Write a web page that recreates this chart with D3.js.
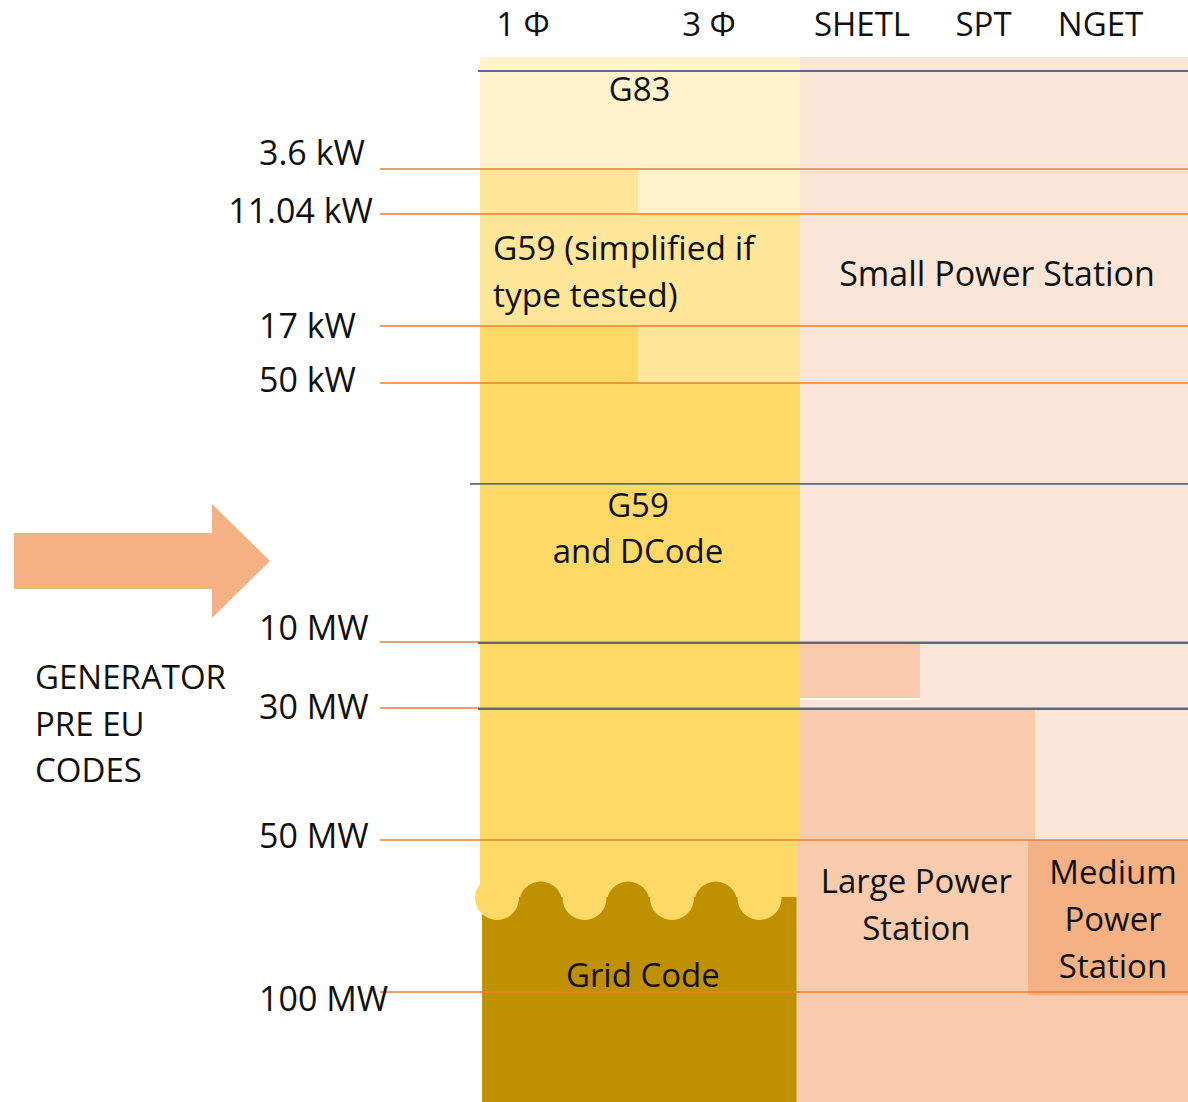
<!DOCTYPE html>
<html><head><meta charset="utf-8">
<script src="https://cdn.jsdelivr.net/npm/d3@7"></script>
<style>
body{margin:0;background:#fff}
svg{display:block}
text{font-family:"Open Sans",sans-serif;fill:#111}
</style>
</head><body>
<svg id="chart" width="1188" height="1102"></svg>
<script>
// ---------------- DATA ----------------
const columnHeaders = ["1 Φ", "3 Φ", "SHETL", "SPT", "NGET"];
const thresholdLabels = ["3.6 kW", "11.04 kW", "17 kW", "50 kW", "10 MW", "30 MW", "50 MW", "100 MW"];
const sideTitle = ["GENERATOR", "PRE EU", "CODES"];
// level 0 = top, levels 1..8 = thresholds above, level 9 = bottom
const blockCol0  = [0, 0, 1, 0, 0, 1, 0,     0.013, 2, 2, 2,    2, 4, 1.98, 3.94];
const blockCol1  = [2, 1, 2, 2, 1, 2, 2,     1.98,  5, 5, 3,    4, 5, 5,    5];
const blockLev0  = [0, 1, 1, 2, 3, 3, 4,     7.375, 0, 5, 5,    6, 6, 7,    7];
const blockLev1  = [1, 2, 2, 3, 4, 4, 7.375, 9,     5, 6, 5.85, 7, 7, 9,    8.03];
const blockShade = ["y1","y2","y1","y2","y3","y2","y3","gold","p1","p1","p2","p2","p1","p2","p3"];
const dividerLevels = [0.116, 4.386, 5, 6];
const labelLines = [["G83"], ["G59 (simplified if", "type tested)"], ["Small Power Station"],
  ["G59", "and DCode"], ["Large Power", "Station"], ["Medium", "Power", "Station"], ["Grid Code"]];
const waveBumps = 3;

// ---------------- LAYOUT / STYLE ----------------
const W = 1188, H = 1102;
const levelY = [57, 169, 214, 326, 383, 642, 708, 840, 992, 1102];
const colX = [480, 638, 800, 920, 1035, 1188];
const palette = {y1:"#FFF2CC", y2:"#FFE699", y3:"#FFD966", gold:"#BF9000",
                 p1:"#FBE5D6", p2:"#F8CBAD", p3:"#F4B183"};
const headerDx = [-36, -10, 2, 6, -11];
const thresholdDy = [-16, -3, 0, -3, -14, -1, -4, 7];
const labelPos = [ // [colCenter, anchor, levels of each line, size]
  {c:1.01, a:"middle", l:[0.29], fs:33},
  {c:0.082, a:"start", l:[2.3, 2.72], fs:33.5},
  {c:3.67, a:"middle", l:[2.54], fs:34},
  {c:1, a:"middle", l:[4.47, 4.65], fs:33},
  {c:2.97, a:"middle", l:[7.27, 7.58], fs:33},
  {c:4.51, a:"middle", l:[7.21, 7.52, 7.83], fs:33},
  {c:1.03, a:"middle", l:[7.89], fs:33}
];
const FS = 33;

const svg = d3.select("#chart");
const y = d3.scaleLinear().domain(d3.range(levelY.length)).range(levelY);
const x = d3.scaleLinear().domain(d3.range(colX.length)).range(colX);

svg.append("rect").attr("width", W).attr("height", H).attr("fill", "#fff");

// blocks
const blocks = blockCol0.map((c0, i) => ({c0, c1: blockCol1[i], l0: blockLev0[i], l1: blockLev1[i], s: blockShade[i]}));
svg.append("g").selectAll("rect").data(blocks).join("rect")
  .attr("x", d => x(d.c0)).attr("y", d => y(d.l0))
  .attr("width", d => x(d.c1) - x(d.c0)).attr("height", d => y(d.l1) - y(d.l0))
  .attr("fill", d => palette[d.s]);

// thin white gap under the SHETL 10-30 MW block
svg.append("line").attr("x1", x(2)).attr("x2", x(3))
  .attr("y1", y(5.85) + 1).attr("y2", y(5.85) + 1)
  .attr("stroke", "#fff").attr("stroke-width", 2);

// wavy boundary between G59/DCode and Grid Code
const waveY = y(7.375);
const step = 87.5;
const firstLobe = x(0) + 17;
const lobes = d3.range(waveBumps + 1).map(i => firstLobe + i * step);
const bumps = d3.range(waveBumps).map(i => firstLobe + step / 2 + i * step);
svg.append("g").selectAll("circle").data(bumps).join("circle")
  .attr("cx", d => d).attr("cy", waveY + 6).attr("r", 21.5).attr("fill", palette.gold);
svg.append("g").selectAll("circle").data(lobes).join("circle")
  .attr("cx", d => d).attr("cy", waveY + 1).attr("r", 22).attr("fill", palette.y3);

// orange threshold lines
svg.append("g").selectAll("line").data(thresholdLabels).join("line")
  .attr("x1", 380).attr("x2", W)
  .attr("y1", (d, i) => y(i + 1)).attr("y2", (d, i) => y(i + 1))
  .attr("stroke", "#ED7D31").attr("stroke-width", 1.4);

// blue-gray dividers
svg.append("g").selectAll("line").data(dividerLevels).join("line")
  .attr("x1", (d, i) => x(0) - (i === 1 ? 10 : 2)).attr("x2", W)
  .attr("y1", d => y(d) + 1).attr("y2", d => y(d) + 1)
  .attr("stroke", "#5A6984").attr("stroke-width", 1.8);

// arrow
const ar = {x0: 14, x1: 212, x2: 270, ym: 561, bh: 28, hh: 57};
const ap = d3.path();
ap.moveTo(ar.x0, ar.ym - ar.bh); ap.lineTo(ar.x1, ar.ym - ar.bh); ap.lineTo(ar.x1, ar.ym - ar.hh);
ap.lineTo(ar.x2, ar.ym); ap.lineTo(ar.x1, ar.ym + ar.hh); ap.lineTo(ar.x1, ar.ym + ar.bh);
ap.lineTo(ar.x0, ar.ym + ar.bh); ap.closePath();
svg.append("path").attr("d", ap.toString()).attr("fill", "#F4B183");

// column headers
svg.append("g").selectAll("text").data(columnHeaders).join("text")
  .attr("x", (d, i) => x(i + 0.5) + headerDx[i]).attr("y", 36)
  .attr("text-anchor", "middle").attr("font-size", FS).text(d => d);

// threshold labels
svg.append("g").selectAll("text").data(thresholdLabels).join("text")
  .attr("x", d => d.length > 7 ? 373 : 259)
  .attr("text-anchor", d => d.length > 7 ? "end" : "start")
  .attr("y", (d, i) => y(i + 1) + thresholdDy[i] + 12)
  .attr("font-size", 34).text(d => d);

// side title
svg.append("g").selectAll("text").data(sideTitle).join("text")
  .attr("x", 35).attr("y", (d, i) => 689 + i * 46.5)
  .attr("font-size", FS).text(d => d);

// block labels
const lg = svg.append("g");
labelLines.forEach((lines, k) => {
  const p = labelPos[k];
  lines.forEach((t, j) => {
    lg.append("text").attr("x", x(p.c))
      .attr("y", y(p.l[j]) + 12).attr("text-anchor", p.a)
      .attr("font-size", p.fs).text(t);
  });
});
</script>
</body></html>
